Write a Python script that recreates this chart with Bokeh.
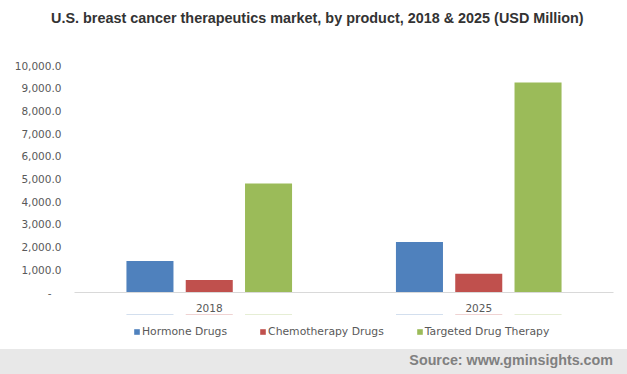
from bokeh.plotting import figure
from bokeh.models import (ColumnDataSource, FactorRange, Range1d, FixedTicker, Div,
                          Legend, LegendItem)
from bokeh.layouts import column
from bokeh.transform import dodge
from bokeh.embed import file_html
from bokeh.resources import INLINE

years = ["2018", "2025"]
hormone = [1390, 2230]
chemo = [550, 830]
targeted = [4800, 9250]
series_names = ["Hormone Drugs", "Chemotherapy Drugs", "Targeted Drug Therapy"]
colors = ["#4f81bd", "#c0504d", "#9bbb59"]
y_ticks = [0, 1000, 2000, 3000, 4000, 5000, 6000, 7000, 8000, 9000, 10000]
y_tick_labels = ["-\u00a0\u00a0\u00a0", "1,000.0", "2,000.0", "3,000.0", "4,000.0", "5,000.0",
                 "6,000.0", "7,000.0", "8,000.0", "9,000.0", "10,000.0"]
title_text = "U.S. breast cancer therapeutics market, by product, 2018 & 2025 (USD Million)"
source_text = "Source: www.gminsights.com"

W = 627

# ---- title strip (HTML)
title_div = Div(text=title_text, render_as_text=True, width=W, height=36, margin=(0, 0, 0, 0),
                styles={"font-family": "'Liberation Sans', Arial, sans-serif",
                        "font-weight": "bold", "font-size": "14.4px", "color": "#333333",
                        "line-height": "36px", "text-indent": "51px", "white-space": "nowrap",
                        "box-sizing": "border-box", "overflow": "hidden"})

# ---- main chart
src = ColumnDataSource(dict(year=years, hormone=hormone, chemo=chemo, targeted=targeted))
p = figure(width=W, height=278, x_range=FactorRange(factors=years), y_range=Range1d(0, 10000),
           output_backend="svg", toolbar_location=None,
           min_border_left=74, min_border_right=14, min_border_top=29, min_border_bottom=22)
p.outline_line_color = None
p.xgrid.visible = False
p.ygrid.visible = False

offs = [-0.22, 0.0, 0.22]
keys = ["hormone", "chemo", "targeted"]
for k, o, c in zip(keys, offs, colors):
    p.vbar(x=dodge("year", o, range=p.x_range), top=k, width=0.1745, source=src,
           fill_color=c, line_color=None)

p.yaxis.ticker = FixedTicker(ticks=y_ticks)
p.yaxis.major_label_overrides = {t: l for t, l in zip(y_ticks, y_tick_labels)}
p.yaxis.axis_line_color = None
p.yaxis.major_tick_line_color = None
p.yaxis.minor_tick_line_color = None
p.yaxis.major_label_text_font = "DejaVu Sans"
p.yaxis.major_label_text_font_size = "10.5px"
p.yaxis.major_label_text_color = "#595959"
p.yaxis.major_label_standoff = 7

p.xaxis.axis_line_color = "#d9d9d9"
p.xaxis.axis_line_width = 1
p.xaxis.major_tick_line_color = None
p.xaxis.minor_tick_line_color = None
p.xaxis.major_label_text_font = "DejaVu Sans"
p.xaxis.major_label_text_font_size = "10.5px"
p.xaxis.major_label_text_color = "#595959"
p.xaxis.major_label_standoff = 5

# ---- legend strip (same series as zero-height bars outside the view; only the legend shows)
lf = figure(width=W, height=35, x_range=p.x_range, y_range=Range1d(-2, -1),
            output_backend="svg", toolbar_location=None,
            x_axis_type=None, y_axis_type=None, min_border=0)
lf.outline_line_color = None
lf.xgrid.visible = False
lf.ygrid.visible = False
leg_rends = [lf.vbar(x=dodge("year", o, range=lf.x_range), top=k, bottom=k, width=0.1745,
                     source=src, fill_color=c, line_color=None)
             for k, o, c in zip(keys, offs, colors)]
legend = Legend(items=[LegendItem(label=n, renderers=[r]) for n, r in zip(series_names, leg_rends)],
                orientation="horizontal", location=(59, 11),
                glyph_width=7, glyph_height=7, label_standoff=2, spacing=32,
                padding=0, margin=0, border_line_color=None, background_fill_alpha=0,
                label_text_font="DejaVu Sans", label_text_font_size="10.8px",
                label_text_color="#595959", label_height=12)
lf.add_layout(legend, "center")

# ---- footer strip (HTML)
footer_div = Div(text=source_text, render_as_text=True, width=W, height=25, margin=(0, 0, 0, 0),
                 styles={"background-color": "#e8e8e8", "box-sizing": "border-box",
                         "padding-right": "14px", "text-align": "right",
                         "font-family": "'Liberation Sans', Arial, sans-serif",
                         "font-weight": "bold", "font-size": "14.3px", "color": "#808080",
                         "line-height": "22px", "white-space": "nowrap"})

layout = column(title_div, p, lf, footer_div, spacing=0)
open("out.html", "w").write(file_html(layout, INLINE))
